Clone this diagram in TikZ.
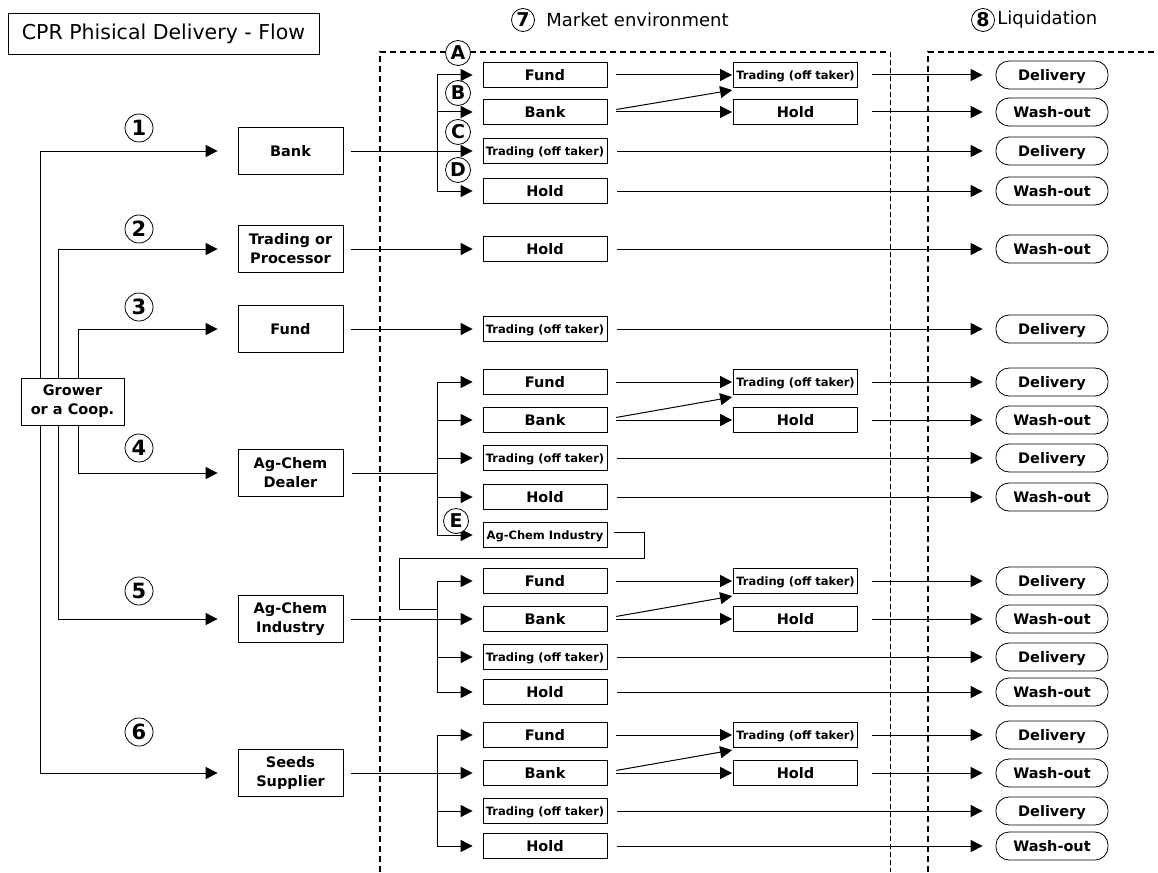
\documentclass[tikz,border=0pt]{standalone}
\usepackage{fontspec}
\setmainfont{DejaVu Sans}
\usetikzlibrary{arrows.meta,positioning,calc}

\begin{document}
\begin{tikzpicture}[x=1pt, y=-1pt, line width=1pt, >={Triangle[length=12pt,width=12pt]},
  box/.style={draw, fill=white, line width=0.8pt, inner sep=1pt, align=center, font=\fontsize{14.5}{19}\selectfont\bfseries},
  pbox/.style={box, minimum width=105pt, minimum height=47pt},
  mbox/.style={box, minimum width=124pt, minimum height=25pt, text height=10.6pt, text depth=0pt},
  sbox/.style={mbox, font=\fontsize{11.5}{13}\selectfont\bfseries, text height=8.4pt, text depth=0pt},
  liq/.style={box, rounded corners=13pt, minimum width=112pt, minimum height=28pt, text height=10.6pt, text depth=0pt},
  num/.style={draw, circle, fill=white, line width=0.8pt, inner sep=0pt, minimum size=28pt, font=\fontsize{21}{21}\selectfont\bfseries},
  let/.style={num, minimum size=25pt, font=\fontsize{19}{19}\selectfont\bfseries},
  head/.style={inner sep=0pt, font=\fontsize{18}{18}\selectfont},
  frame/.style={line width=2pt, dash pattern=on 6pt off 4pt},
  ab/.style={shorten <=9pt, shorten >=1pt},
  bz/.style={shorten <=14pt, shorten >=13pt},
  az/.style={shorten <=10pt, shorten >=13pt}]
  \useasboundingbox (0,0) rectangle (1158,872);

  % Frames of the market environment and the liquidation
  \draw[frame] (380,872) -- (380,52) -- (890,52);
  \draw[dash pattern=on 5pt off 3pt] (890,52) -- (890,872);
  \draw[frame] (928,872) -- (928,52) -- (1158,52);

  % Title and headers
  \node[draw, line width=0.8pt, minimum width=311pt, minimum height=41pt, font=\fontsize{20.5}{20.5}\selectfont] (ttl) at (163.5,33.5) {CPR Phisical Delivery - Flow};
  \node[num, minimum size=23pt, font=\fontsize{19}{19}\selectfont\bfseries] (h7) at (523,20) {7};
  \node[head, right=11pt of h7] (t7) {Market environment};
  \node[num, minimum size=23pt, font=\fontsize{19}{19}\selectfont\bfseries] (h8) at (983,20) {8};
  \node[head, right=2pt of h8] (t8) {Liquidation};

  % Grower and its partners
  \node[pbox, minimum width=103pt] (g) at (72.5,401.5) {Grower\\or a Coop.};
  \node[pbox] (p1) at (290.5,151) {Bank};
  \node[pbox] (p2) at (290.5,249) {Trading or\\Processor};
  \node[pbox] (p3) at (290.5,329) {Fund};
  \node[pbox] (p4) at (290.5,473) {Ag-Chem\\Dealer};
  \node[pbox] (p5) at (290.5,619) {Ag-Chem\\Industry};
  \node[pbox] (p6) at (290.5,773) {Seeds\\Supplier};

  % Market environment, first column
  \node[mbox] (a11) at (545,75) {Fund};
  \node[mbox] (a12) at (545,112) {Bank};
  \node[sbox] (a13) at (545,151) {Trading (off taker)};
  \node[mbox] (a14) at (545,191) {Hold};
  \node[mbox] (a21) at (545,249) {Hold};
  \node[sbox] (a31) at (545,329) {Trading (off taker)};
  \node[mbox] (a41) at (545,382) {Fund};
  \node[mbox] (a42) at (545,420) {Bank};
  \node[sbox] (a43) at (545,458) {Trading (off taker)};
  \node[mbox] (a44) at (545,497) {Hold};
  \node[sbox] (a45) at (545,535) {Ag-Chem Industry};
  \node[mbox] (a51) at (545,581) {Fund};
  \node[mbox] (a52) at (545,619) {Bank};
  \node[sbox] (a53) at (545,657) {Trading (off taker)};
  \node[mbox] (a54) at (545,692) {Hold};
  \node[mbox] (a61) at (545,735) {Fund};
  \node[mbox] (a62) at (545,773) {Bank};
  \node[sbox] (a63) at (545,811) {Trading (off taker)};
  \node[mbox] (a64) at (545,846) {Hold};

  % Market environment, second column
  \node[sbox] (b11) at (795.5,75) {Trading (off taker)};
  \node[mbox] (b12) at (795.5,112) {Hold};
  \node[sbox] (b41) at (795.5,382) {Trading (off taker)};
  \node[mbox] (b42) at (795.5,420) {Hold};
  \node[sbox] (b51) at (795.5,581) {Trading (off taker)};
  \node[mbox] (b52) at (795.5,619) {Hold};
  \node[sbox] (b61) at (795.5,735) {Trading (off taker)};
  \node[mbox] (b62) at (795.5,773) {Hold};

  % Liquidation
  \node[liq] (z11) at (1052,75) {Delivery};
  \node[liq] (z12) at (1052,112) {Wash-out};
  \node[liq] (z13) at (1052,151) {Delivery};
  \node[liq] (z14) at (1052,191) {Wash-out};
  \node[liq] (z21) at (1052,249) {Wash-out};
  \node[liq] (z31) at (1052,329) {Delivery};
  \node[liq] (z41) at (1052,382) {Delivery};
  \node[liq] (z42) at (1052,420) {Wash-out};
  \node[liq] (z43) at (1052,458) {Delivery};
  \node[liq] (z44) at (1052,497) {Wash-out};
  \node[liq] (z51) at (1052,581) {Delivery};
  \node[liq] (z52) at (1052,619) {Wash-out};
  \node[liq] (z53) at (1052,657) {Delivery};
  \node[liq] (z54) at (1052,692) {Wash-out};
  \node[liq] (z61) at (1052,735) {Delivery};
  \node[liq] (z62) at (1052,773) {Wash-out};
  \node[liq] (z63) at (1052,811) {Delivery};
  \node[liq] (z64) at (1052,846) {Wash-out};

  % Trunk lines
  \coordinate (t1) at (40,0);
  \coordinate (t2) at (58,0);
  \coordinate (t3) at (78,0);
  \coordinate (k) at (437,0);
  \coordinate (m1) at (644,558);
  \coordinate (m2) at (399,609);

  % Arrows from the grower
  \draw[->, shorten >=20pt] (g.north -| t1) |- (p1);
  \draw[->, shorten >=20pt] (g.north -| t2) |- (p2);
  \draw[->, shorten >=20pt] (g.north -| t3) |- (p3);
  \draw[->, shorten >=20pt] (g.south -| t3) |- (p4);
  \draw[->, shorten >=20pt] (g.south -| t2) |- (p5);
  \draw[->, shorten >=20pt] (g.south -| t1) |- (p6);

  % Arrows into the market environment
  \path[->, shorten <=8pt, shorten >=10pt]
    (p1) edge (a13)
    (p2) edge (a21)
    (p3) edge (a31)
    (p5) edge (a52)
    (p6) edge (a62);
  \draw[shorten <=9pt] (p4) -- (p4 -| k);
  \draw[shorten <=7pt] ([yshift=3pt]a45.east) -| (m1) -| (m2) -- (m2 -| k);

  \draw (a11 -| k) -- (a14 -| k);
  \draw (a41 -| k) -- (a45 -| k);
  \draw (a51 -| k) -- (a54 -| k);
  \draw (a61 -| k) -- (a64 -| k);
  \path[->, shorten >=10pt]
    (a11 -| k) edge (a11)
    (a12 -| k) edge (a12)
    (a14 -| k) edge (a14)
    (a41 -| k) edge (a41)
    (a42 -| k) edge (a42)
    (a43 -| k) edge (a43)
    (a44 -| k) edge (a44)
    (a45 -| k) edge (a45)
    (a51 -| k) edge (a51)
    (a53 -| k) edge (a53)
    (a54 -| k) edge (a54)
    (a61 -| k) edge (a61)
    (a63 -| k) edge (a63)
    (a64 -| k) edge (a64);

  % Arrows towards the liquidation
  \path[->]
    (a11) edge[ab] (b11)
    (a12) edge[ab] (b12)
    ([yshift=1pt]a12.east) edge[ab] ([yshift=-2pt]b11.south west)
    (b11) edge[bz] (z11)
    (b12) edge[bz] (z12)
    (a13) edge[az] (z13)
    (a14) edge[az] (z14)
    (a21) edge[az] (z21)
    (a31) edge[az] (z31)
    (a41) edge[ab] (b41)
    (a42) edge[ab] (b42)
    ([yshift=1pt]a42.east) edge[ab] ([yshift=-2pt]b41.south west)
    (b41) edge[bz] (z41)
    (b42) edge[bz] (z42)
    (a43) edge[az] (z43)
    (a44) edge[az] (z44)
    (a51) edge[ab] (b51)
    (a52) edge[ab] (b52)
    ([yshift=1pt]a52.east) edge[ab] ([yshift=-2pt]b51.south west)
    (b51) edge[bz] (z51)
    (b52) edge[bz] (z52)
    (a53) edge[az] (z53)
    (a54) edge[az] (z54)
    (a61) edge[ab] (b61)
    (a62) edge[ab] (b62)
    ([yshift=1pt]a62.east) edge[ab] ([yshift=-2pt]b61.south west)
    (b61) edge[bz] (z61)
    (b62) edge[bz] (z62)
    (a63) edge[az] (z63)
    (a64) edge[az] (z64);

  % Numbers and letters
  \node[num] (n1) at (139,128) {1};
  \node[num] (n2) at (139,229) {2};
  \node[num] (n3) at (139,307) {3};
  \node[num] (n4) at (139,448) {4};
  \node[num] (n5) at (139,591) {5};
  \node[num] (n6) at (139,732) {6};
  \node[let] (cA) at (458,53) {A};
  \node[let] (cB) at (458,93) {B};
  \node[let] (cC) at (458,132) {C};
  \node[let] (cD) at (458,170) {D};
  \node[let] (cE) at (456,521) {E};
\end{tikzpicture}
\end{document}
